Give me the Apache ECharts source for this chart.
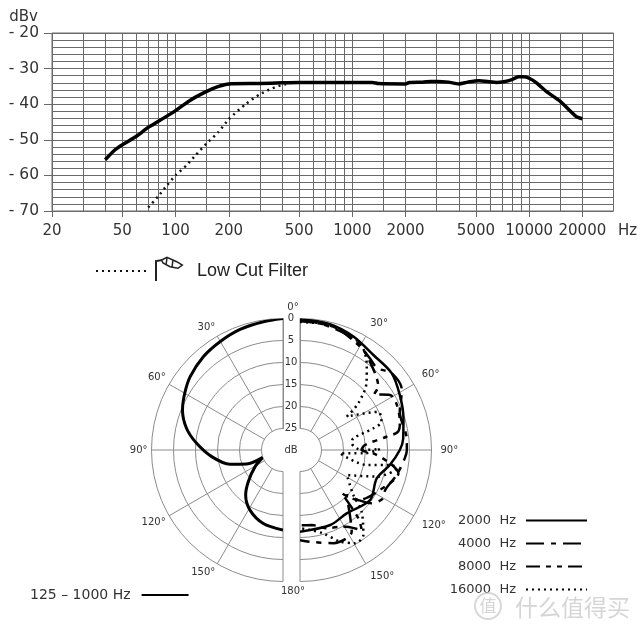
<!DOCTYPE html>
<html>
<head>
<meta charset="utf-8">
<style>html,body{margin:0;background:#fff}#chart{width:640px;height:632px}</style>
<script src="https://cdn.jsdelivr.net/npm/echarts@6/dist/echarts.min.js"></script>
</head>
<body>
<div id="chart"></div>
<script>
// frequency response, [Hz, dBv]
const responseMain = [[40,-55.6],[45,-53],[50,-51.4],[60,-49],[70,-46.5],[80,-44.8],[100,-41.8],[120,-39],[150,-36.4],[175,-35],[200,-34.3],[300,-34.2],[400,-34],[500,-33.9],[1000,-33.9],[1300,-33.9],[1400,-34.2],[2000,-34.3],[2100,-33.9],[2500,-33.8],[2800,-33.6],[3000,-33.6],[3500,-33.8],[4000,-34.3],[4500,-33.8],[5200,-33.4],[6000,-33.7],[6500,-33.9],[7200,-33.7],[8000,-33.1],[8700,-32.3],[9300,-32.3],[10000,-32.7],[11000,-34],[12500,-36.4],[15000,-39.2],[18400,-43.4],[20000,-44.1]]
const responseLowCut = [[70,-69],[80,-65.8],[90,-62.6],[100,-60],[115,-57.2],[130,-54.3],[150,-51],[175,-47.8],[200,-44.2],[250,-39.9],[300,-37.2],[350,-35.6],[400,-34.6],[450,-34.1]]

const freqGridValues = [20,30,40,50,60,70,80,90,100,150,200,300,400,500,600,700,800,900,1000,1500,2000,3000,4000,5000,6000,7000,8000,9000,10000,15000,20000,30000]
const freqLabelValues = [20,50,100,200,500,1000,2000,5000,10000,20000]

// polar response, [dB, degrees]
const polarLow = [[0,0],[0.4,8.7],[0.8,19.6],[1.4,30],[2,40.5],[3,51.7],[4.1,60],[5.3,68.3],[7.4,77.3],[10.2,85.6],[13.6,95.3],[17.4,105],[21,111],[25,110],[22.5,120.8],[19.2,132.4],[16.6,140.3],[14.3,151.2],[12.6,165],[11.7,180]]
const polar2000 = [[0,0],[0.5,13.4],[1.4,25.2],[2.6,37.7],[2.7,50],[4,61.2],[5.3,73],[6.3,83.8],[7.2,90],[9.2,99.5],[11.3,110.3],[10.3,125.5],[12,143.6],[11.5,158],[11.3,180]]
const polar4000 = [[0.3,0],[0.85,10.5],[1.8,25.5],[3.7,37.4],[4.3,43.4],[2.7,50],[3,59.5],[5.6,69],[5.5,83.8],[5.6,90],[6,94.5],[7.2,104.5],[8.5,115],[8,120],[9.6,126.7],[12.4,130.6],[15.2,134],[7.9,147.7],[7.4,160.3],[8.9,173.8],[9.4,180]]
const polar8000 = [[0.6,0],[0.85,15.1],[2.7,30.1],[3.9,36.7],[7,51],[8.8,53],[5.9,58.6],[5.6,65],[6.3,74.2],[7.2,79.4],[10,81.3],[15.1,85.6],[15.9,90],[13.2,92.6],[9.2,98.4],[6.9,103.3],[9.6,116.6],[12.4,130.6],[16.2,136],[9.4,139.5],[6.9,142.4],[9.9,150.5],[11.1,161],[12.6,171],[12.8,180]]
const polar16000 = [[0.8,0],[0.8,13.6],[2.1,29.4],[5.3,38.1],[8.2,44.3],[12.9,51.3],[16.8,54.5],[10.1,64],[10.3,70.9],[12.5,73.5],[17.5,77.7],[18,82.6],[15.9,90],[11.7,89.3],[15.3,93],[20.8,94.8],[14.4,102.7],[9.2,99.5],[7.5,100.4],[11.3,109],[17.8,118.2],[14,130.2],[10.1,135],[5.8,143.3],[5.3,149.5],[7.2,156.4],[10.2,164.4],[11.6,173],[12.1,180]]

const ringRadii = [131.5, 109.5, 87.5, 65.5, 43.5, 21.5]

const textColor = '#333'
const gridColor = '#6a6a6a'
const polarColor = '#8c8c8c'
const labelFont = 'DejaVu Sans'

function polarLine(name, idx, data, width, type) {
  return {
    name,
    type: 'line',
    coordinateSystem: 'polar',
    polarIndex: idx,
    data,
    symbol: 'none',
    smooth: 0.3,
    animation: false,
    lineStyle: { color: '#000', width, type }
  }
}

function angleAxisFor(idx, endAngle, clockwise, margin) {
  return {
    polarIndex: idx,
    type: 'value',
    min: 0,
    max: 180,
    interval: 30,
    startAngle: 90,
    endAngle,
    clockwise,
    axisLine: { show: false },
    axisTick: { show: false },
    axisLabel: {
      margin,
      fontFamily: labelFont,
      fontSize: 10,
      color: textColor,
      formatter: v => (v === 0 || v === 180 ? '' : v + '°')
    },
    splitLine: { show: true, lineStyle: { color: polarColor, width: 1 } }
  }
}

function radiusAxisFor(idx, labelled) {
  return {
    polarIndex: idx,
    type: 'value',
    inverse: true,
    min: 0,
    max: 25,
    interval: 5,
    axisLine: { show: true, lineStyle: { color: polarColor, width: 1 } },
    axisTick: { show: false },
    axisLabel: {
      show: labelled,
      margin: 9,
      align: 'center',
      padding: [3, 0, 0, 0],
      fontFamily: labelFont,
      fontSize: 10,
      color: textColor
    },
    splitLine: { show: false }
  }
}

function plainText(text, x, y, size, align) {
  return {
    type: 'text',
    x,
    y,
    z: 10,
    style: { text, fontFamily: labelFont, fontSize: size, fill: textColor, align: align || 'center', verticalAlign: 'middle' }
  }
}

// half rings, the two halves of the plot have their own centres
function halfRings(cx, startAngle, endAngle) {
  return ringRadii.map(r => ({
    type: 'arc',
    z: 0,
    silent: true,
    shape: { cx, cy: 450, r, startAngle, endAngle, clockwise: true },
    style: { stroke: polarColor, lineWidth: 1, fill: null }
  }))
}

const myChart = echarts.init(document.getElementById('chart'))
const option = {
  backgroundColor: '#fff',
  animation: false,
  grid: { left: 52, right: 26.5, top: 33, bottom: 421, show: true, borderColor: gridColor, borderWidth: 1 },
  xAxis: [
    {
      type: 'log',
      min: 20,
      max: 30000,
      axisLine: { show: false },
      splitLine: { show: false },
      minorSplitLine: { show: false },
      axisTick: { customValues: freqGridValues, inside: true, length: 178, lineStyle: { color: gridColor, width: 1 } },
      axisLabel: { customValues: freqLabelValues, margin: 13, fontFamily: labelFont, fontSize: 15, color: textColor, showMinLabel: true, showMaxLabel: true, formatter: v => String(v) }
    },
    {
      type: 'log',
      min: 20,
      max: 30000,
      position: 'bottom',
      axisLine: { show: false },
      splitLine: { show: false },
      axisTick: { customValues: freqLabelValues, length: 6, lineStyle: { color: gridColor, width: 1 } },
      axisLabel: { show: false }
    }
  ],
  yAxis: {
    type: 'value',
    min: -70,
    max: -20,
    interval: 10,
    name: 'dBv',
    nameGap: 8,
    nameTextStyle: { align: 'right', padding: [0, 14, 0, 0], fontFamily: labelFont, fontSize: 15, color: textColor },
    axisLine: { show: false },
    axisTick: { length: 8, lineStyle: { color: gridColor } },
    axisLabel: {
      margin: 13,
      padding: [4, 0, 0, 0],
      fontFamily: labelFont,
      fontSize: 15.5,
      color: textColor,
      formatter: v => '- ' + Math.abs(v)
    },
    splitLine: { lineStyle: { color: gridColor, width: 1 } },
    minorTick: { show: false, splitNumber: 5 },
    minorSplitLine: { show: true, lineStyle: { color: gridColor, width: 1 } }
  },
  polar: [
    { center: [283, 450], radius: [21.5, 131.5] },
    { center: [300, 450], radius: [21.5, 131.5] }
  ],
  angleAxis: [angleAxisFor(0, 270, false, 4), angleAxisFor(1, -90, true, 9)],
  radiusAxis: [radiusAxisFor(0, false), radiusAxisFor(1, true)],
  legend: [
    {
      data: ['Low Cut Filter'],
      left: 90,
      top: 257,
      itemWidth: 53,
      itemHeight: 14,
      itemStyle: { opacity: 0 },
      textStyle: { fontFamily: 'Liberation Sans', fontSize: 18, color: '#222', padding: [0, 0, 0, 43] }
    },
    {
      data: ['2000  Hz', '4000  Hz', '8000  Hz', '16000  Hz'],
      orient: 'vertical',
      align: 'right',
      right: 47,
      top: 509,
      itemWidth: 61,
      itemHeight: 14,
      itemGap: 10,
      itemStyle: { opacity: 0 },
      textStyle: { fontFamily: labelFont, fontSize: 13, color: textColor, padding: [0, 5, 0, 0] }
    },
    {
      data: ['125 – 1000 Hz'],
      orient: 'vertical',
      align: 'right',
      left: 25,
      top: 583,
      itemWidth: 47,
      itemHeight: 14,
      itemStyle: { opacity: 0 },
      textStyle: { fontFamily: labelFont, fontSize: 14, color: textColor, padding: [0, 6, 0, 0] }
    }
  ],
  series: [
    { name: 'response', type: 'line', data: responseMain, symbol: 'none', smooth: 0.2, lineStyle: { color: '#000', width: 3.5 } },
    { name: 'Low Cut Filter', type: 'line', data: responseLowCut, symbol: 'none', smooth: 0.2, lineStyle: { color: '#111', width: 2.5, type: [2, 4] }, itemStyle: { color: '#111' } },
    polarLine('125 – 1000 Hz', 0, polarLow, 3, 'solid'),
    polarLine('2000  Hz', 1, polar2000, 2.5, 'solid'),
    polarLine('4000  Hz', 1, polar4000, 2.5, [18, 7, 5, 7]),
    polarLine('8000  Hz', 1, polar8000, 2.5, [14, 6, 5, 6, 5, 6]),
    polarLine('16000  Hz', 1, polar16000, 2.5, [2, 4])
  ],
  graphic: [
    ...halfRings(283, Math.PI / 2, -Math.PI / 2),
    ...halfRings(300, -Math.PI / 2, Math.PI / 2),
    plainText('Hz', 618, 231, 15, 'left'),
    plainText('dB', 291, 450, 10),
    plainText('0°', 293, 307, 10),
    plainText('180°', 293, 591, 10),
    // wind sock next to the low cut legend
    {
      type: 'polyline',
      z: 10,
      shape: { points: [[156, 281], [156, 261], [163, 260]] },
      style: { stroke: '#222', lineWidth: 2, fill: null }
    },
    {
      type: 'polygon',
      z: 10,
      shape: { points: [[161.7, 260], [167, 257.3], [176.7, 261.7], [182.3, 265], [178, 268.3], [170, 266.7], [163, 263]] },
      style: { stroke: '#222', lineWidth: 1.5, fill: '#fff' }
    },
    {
      type: 'polyline',
      z: 10,
      shape: { points: [[167, 258], [166, 265]] },
      style: { stroke: '#222', lineWidth: 1.5, fill: null }
    },
    {
      type: 'polyline',
      z: 10,
      shape: { points: [[173, 260], [172, 267]] },
      style: { stroke: '#222', lineWidth: 1.5, fill: null }
    },
    // site watermark
    {
      type: 'circle',
      z: 20,
      shape: { cx: 488, cy: 606, r: 13 },
      style: { stroke: 'rgba(190,190,190,0.6)', lineWidth: 2, fill: 'rgba(255,255,255,0.4)' }
    },
    {
      type: 'text',
      x: 488,
      y: 606,
      z: 21,
      style: { text: '值', fontFamily: 'Noto Sans CJK SC', fontSize: 17, fill: 'rgba(190,190,190,0.65)', align: 'center', verticalAlign: 'middle' }
    },
    {
      type: 'text',
      x: 515,
      y: 607,
      z: 21,
      style: { text: '什么值得买', fontFamily: 'Noto Sans CJK SC', fontSize: 23, fill: 'rgba(190,190,190,0.65)', align: 'left', verticalAlign: 'middle' }
    }
  ]
}
myChart.setOption(option)
</script>
</body>
</html>
